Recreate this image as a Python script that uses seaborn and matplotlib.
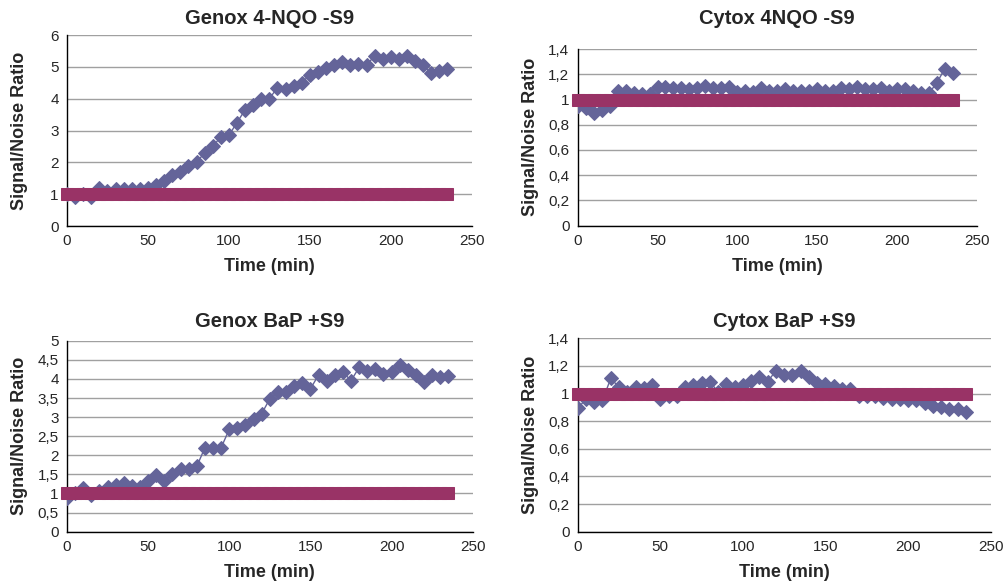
import numpy as np
import pandas as pd
import matplotlib
matplotlib.use("Agg")
import matplotlib.pyplot as plt
import seaborn as sns

# time points (min)
time_min = list(range(0, 240, 5))

genox_nqo = [1.0, 0.92, 1.0, 0.92, 1.2, 1.1, 1.15, 1.15, 1.15, 1.15,
             1.2, 1.3, 1.4, 1.6, 1.7, 1.9, 2.0, 2.3, 2.5, 2.8,
             2.85, 3.25, 3.65, 3.8, 4.0, 4.0, 4.35, 4.3, 4.4, 4.5,
             4.75, 4.85, 4.95, 5.05, 5.15, 5.05, 5.1, 5.05, 5.35, 5.25,
             5.3, 5.25, 5.35, 5.2, 5.05, 4.8, 4.88, 4.93]

cytox_nqo = [0.95, 0.93, 0.89, 0.92, 0.95, 1.07, 1.07, 1.05, 1.04, 1.04,
             1.10, 1.10, 1.09, 1.09, 1.08, 1.09, 1.11, 1.09, 1.09, 1.10,
             1.06, 1.07, 1.06, 1.09, 1.07, 1.07, 1.08, 1.07, 1.07, 1.07,
             1.08, 1.07, 1.07, 1.09, 1.08, 1.10, 1.08, 1.08, 1.09, 1.07,
             1.08, 1.08, 1.07, 1.05, 1.05, 1.13, 1.245, 1.21]

genox_bap = [0.89, 1.0, 1.15, 0.97, 1.07, 1.16, 1.23, 1.27, 1.19, 1.18,
             1.32, 1.49, 1.34, 1.51, 1.63, 1.65, 1.71, 2.2, 2.2, 2.2,
             2.68, 2.71, 2.8, 2.96, 3.09, 3.48, 3.66, 3.66, 3.81, 3.88,
             3.74, 4.1, 3.95, 4.1, 4.19, 3.95, 4.3, 4.21, 4.26, 4.12,
             4.19, 4.37, 4.23, 4.1, 3.92, 4.1, 4.06, 4.08]

cytox_bap = [0.894, 0.96, 0.94, 0.95, 1.11, 1.046, 1.01, 1.05, 1.04, 1.06,
             0.96, 0.98, 0.98, 1.046, 1.063, 1.08, 1.087, 1.01, 1.07, 1.046,
             1.063, 1.094, 1.118, 1.087, 1.166, 1.135, 1.135, 1.16, 1.118, 1.075,
             1.07, 1.055, 1.03, 1.03, 0.983, 0.98, 0.983, 0.966, 0.96, 0.96,
             0.954, 0.954, 0.93, 0.913, 0.906, 0.887, 0.887, 0.865]

baseline = [1.0] * len(time_min)

titles = ["Genox 4-NQO -S9", "Cytox 4NQO -S9", "Genox BaP +S9", "Cytox BaP +S9"]
series = [genox_nqo, cytox_nqo, genox_bap, cytox_bap]

yticks_list = [
    [0, 1, 2, 3, 4, 5, 6],
    [0, 0.2, 0.4, 0.6, 0.8, 1.0, 1.2, 1.4],
    [0, 0.5, 1, 1.5, 2, 2.5, 3, 3.5, 4, 4.5, 5],
    [0, 0.2, 0.4, 0.6, 0.8, 1.0, 1.2, 1.4],
]
ytick_labels = [
    ["0", "1", "2", "3", "4", "5", "6"],
    ["0", "0,2", "0,4", "0,6", "0,8", "1", "1,2", "1,4"],
    ["0", "0,5", "1", "1,5", "2", "2,5", "3", "3,5", "4", "4,5", "5"],
    ["0", "0,2", "0,4", "0,6", "0,8", "1", "1,2", "1,4"],
]
xticks = [0, 50, 100, 150, 200, 250]

# axes rectangles in figure fractions, title heights in pixels from top
positions = [
    [0.0665, 0.6123, 0.4020, 0.3276],
    [0.5737, 0.6129, 0.3962, 0.3030],
    [0.0665, 0.0880, 0.4029, 0.3276],
    [0.5737, 0.0880, 0.4101, 0.3317],
]
title_px = [19, 19, 321, 321]

sns.set_style("white")
plt.rcParams['font.family'] = ['Liberation Sans', 'DejaVu Sans']

blue = "#646499"
pink = "#993366"

W, H = 1007, 583
fig = plt.figure(figsize=(W / 100, H / 100), dpi=100)

for i in range(4):
    ax = fig.add_axes(positions[i])
    df = pd.DataFrame({"t": time_min, "signal": series[i], "base": baseline})

    sns.lineplot(data=df, x="t", y="signal", ax=ax, color=blue, linewidth=1,
                 marker="D", markersize=7, markeredgecolor=blue, zorder=3)
    sns.lineplot(data=df, x="t", y="base", ax=ax, color=pink, linewidth=8,
                 marker="s", markersize=8, markeredgecolor=pink, zorder=4,
                 solid_capstyle="butt", clip_on=False)

    ax.set_xlim(0, 250)
    ax.set_ylim(yticks_list[i][0], yticks_list[i][-1])
    ax.set_xticks(xticks)
    ax.set_xticklabels([str(x) for x in xticks], fontsize=11)
    ax.set_yticks(yticks_list[i])
    ax.set_yticklabels(ytick_labels[i], fontsize=11)
    ax.tick_params(length=0, pad=6)
    ax.yaxis.grid(True, color="#a0a0a0", linewidth=1)
    ax.xaxis.grid(False)
    ax.set_axisbelow(True)
    for s in ["top", "right"]:
        ax.spines[s].set_visible(False)
    for s in ["left", "bottom"]:
        ax.spines[s].set_color("black")
        ax.spines[s].set_linewidth(1)

    left, bottom, width, height = positions[i]
    fig.text(left + width / 2, 1 - title_px[i] / H, titles[i], fontsize=14.5,
             fontweight="bold", ha="center", va="center")
    ax.set_xlabel("Time (min)", fontsize=13, fontweight="bold", labelpad=7)
    ax.set_ylabel("Signal/Noise Ratio", fontsize=13, fontweight="bold",
                  va="center")
    ax.yaxis.set_label_coords(-47 / (width * W), 0.5)

fig.savefig("out.png", dpi=100)
